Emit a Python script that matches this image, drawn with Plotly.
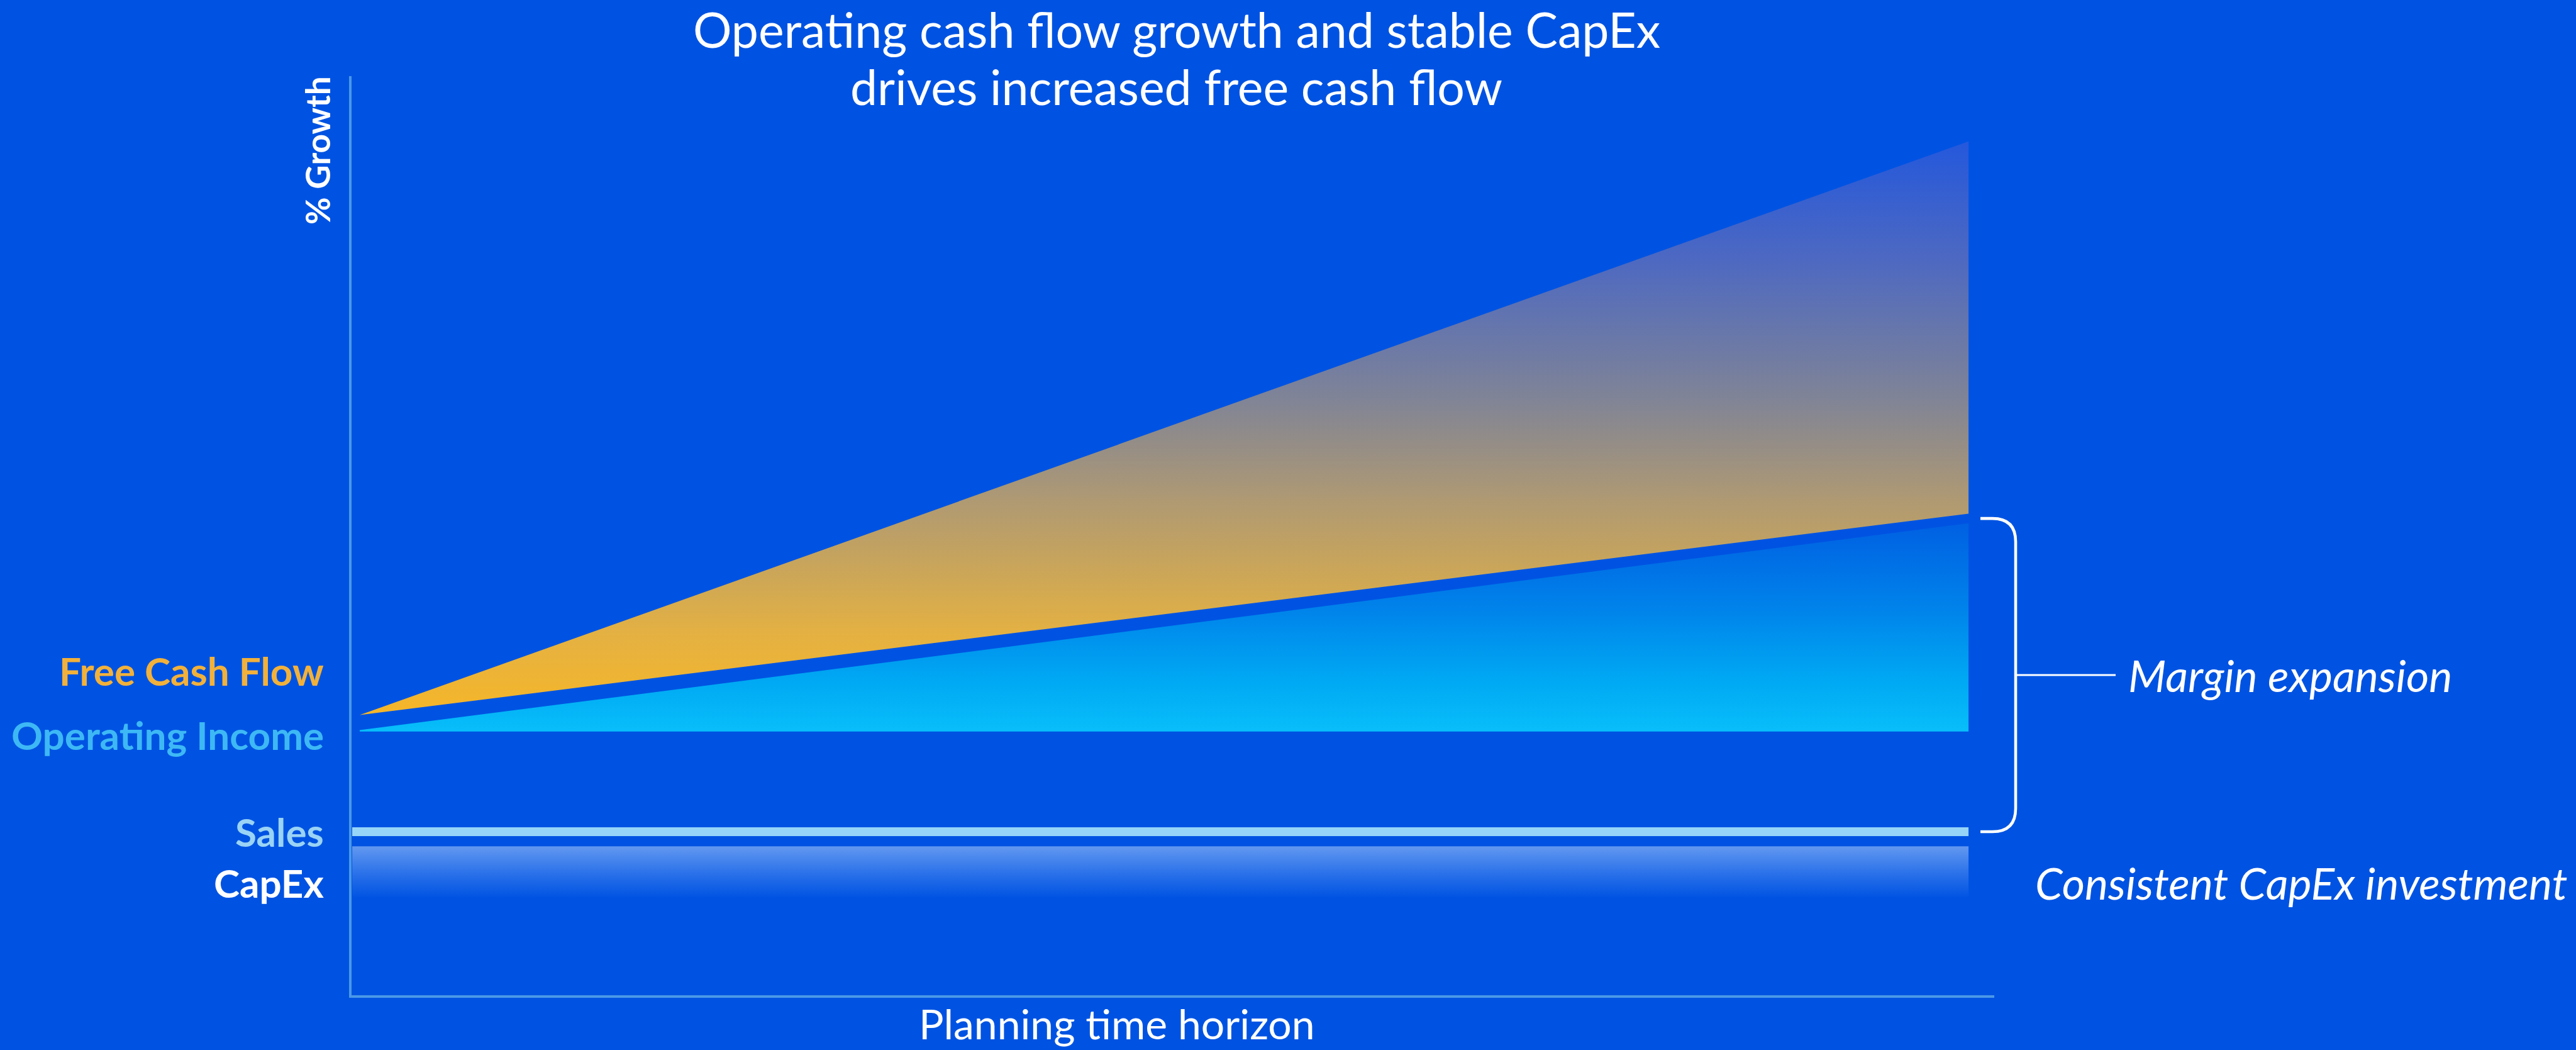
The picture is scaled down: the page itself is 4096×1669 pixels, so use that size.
import plotly.graph_objects as go

# ---------------- data ----------------
periods = [0, 10]                     # start / end of the planning time horizon
fcf_upper = [30.5, 92.9]              # free cash flow – upper edge of band
fcf_lower = [30.5, 52.4]              # free cash flow – lower edge of band
opinc_upper = [28.85, 51.35]          # operating income – upper edge
opinc_base = [28.7, 28.7]             # operating income – base
sales_level = [17.8, 17.8]            # sales (flat)
capex_top = [16.2, 16.2]              # capex band top
capex_fade = [10.6, 10.6]             # capex band fade-out

series_labels = ["Free Cash Flow", "Operating Income", "Sales", "CapEx"]
label_colors = ["#F2B13B", "#3DB8F5", "#9AD3F5", "#FFFFFF"]
title_lines = ["Operating cash flow growth and stable CapEx",
               "drives increased free cash flow"]
y_title = "% Growth"
x_title = "Planning time horizon"
note_margin = "Margin expansion"
note_capex = "Consistent CapEx investment"

# ---------------- geometry ----------------
W, H = 4096, 1669
L, R, T, B = 559, 925, 121, 87
PW, PH = W - L - R, H - T - B
X_RANGE = [-0.0508, 10.160]
Y_RANGE = [0, 100]
BG = "#0053E2"
FONT = "Lato"


def px_x(p):
    return (p - L) / PW


def px_y(p):
    return 1 - (p - T) / PH


def val_py(v):
    return T + (Y_RANGE[1] - v) / (Y_RANGE[1] - Y_RANGE[0]) * PH


def band(x, lo, hi):
    return list(x) + list(x)[::-1], list(lo) + list(hi)[::-1]


fig = go.Figure()

# CapEx band (fading)
flat_x = [X_RANGE[0] + 0.004, periods[-1]]
bx, by = band(flat_x, capex_fade, capex_top)
fig.add_trace(go.Scatter(
    x=bx, y=by, mode="lines", line=dict(width=0), fill="toself",
    fillgradient=dict(type="vertical", start=capex_fade[0], stop=capex_top[0],
                      colorscale=[[0, "rgba(0,83,226,1)"], [0.5, "rgb(45,115,234)"],
                                  [1, "rgb(98,152,240)"]]),
    hoverinfo="skip"))

# Sales line
fig.add_trace(go.Scatter(
    x=flat_x, y=sales_level, mode="lines",
    line=dict(color="#96D5F8", width=14), hoverinfo="skip"))

# Operating income area
ox, oy = band(periods, opinc_base, opinc_upper)
fig.add_trace(go.Scatter(
    x=ox, y=oy, mode="lines", line=dict(width=0), fill="toself",
    fillgradient=dict(type="vertical", start=min(opinc_base), stop=max(opinc_upper),
                      colorscale=[[0, "rgb(8,190,250)"], [0.25, "rgb(0,168,243)"],
                                  [0.6, "rgb(0,130,234)"], [1, "rgb(0,96,226)"]]),
    hoverinfo="skip"))

# Free cash flow area
fx, fy = band(periods, fcf_lower, fcf_upper)
fig.add_trace(go.Scatter(
    x=fx, y=fy, mode="lines", line=dict(width=0), fill="toself",
    fillgradient=dict(type="vertical", start=min(fcf_lower), stop=max(fcf_upper),
                      colorscale=[[0, "rgb(246,182,40)"], [0.14, "rgb(228,177,66)"],
                                  [0.37, "rgb(176,154,114)"], [0.55, "rgb(128,132,150)"],
                                  [0.8, "rgb(76,104,194)"], [1, "rgb(36,88,220)"]]),
    hoverinfo="skip"))

# ---------------- bracket ----------------
xs, xv, xt = 3149, 3205, 3364
r = 37
top_py = val_py((fcf_lower[-1] + opinc_upper[-1]) / 2)
bot_py = val_py(sales_level[-1])
mid_py = (top_py + bot_py) / 2


def P(xp, yp):
    return f"{px_x(xp):.5f},{px_y(yp):.5f}"


path = (f"M {P(xs, top_py)} L {P(xv - r, top_py)} Q {P(xv, top_py)} {P(xv, top_py + r)} "
        f"L {P(xv, bot_py - r)} Q {P(xv, bot_py)} {P(xv - r, bot_py)} L {P(xs, bot_py)}")
shapes = [
    dict(type="path", xref="paper", yref="paper", path=path,
         line=dict(color="white", width=4.6)),
    dict(type="line", xref="paper", yref="paper", x0=px_x(xv), x1=px_x(xt),
         y0=px_y(mid_py), y1=px_y(mid_py), line=dict(color="white", width=3)),
]

# ---------------- text ----------------
ann = []
# title
for txt, yc in zip(title_lines, [46, 137]):
    ann.append(dict(text=txt, xref="paper", yref="paper", x=px_x(1871), y=px_y(yc),
                    xanchor="center", yanchor="middle", showarrow=False,
                    font=dict(family=FONT, size=77, color="white")))
# left labels
for txt, col, yc in zip(series_labels, label_colors, [1066, 1168, 1322, 1403]):
    ann.append(dict(text=txt, xref="paper", yref="paper", x=px_x(517), y=px_y(yc),
                    xanchor="right", yanchor="middle", showarrow=False,
                    font=dict(family=FONT, size=62, color=col, weight="bold")))
# axis titles
ann.append(dict(text=y_title, xref="paper", yref="paper", x=px_x(504), y=px_y(239),
                xanchor="center", yanchor="middle", showarrow=False, textangle=-90,
                font=dict(family=FONT, size=53, color="white", weight="bold")))
ann.append(dict(text=x_title, xref="paper", yref="paper", x=px_x(1776), y=px_y(1626),
                xanchor="center", yanchor="middle", showarrow=False,
                font=dict(family=FONT, size=66, color="white")))
# notes
ann.append(dict(text=note_margin, xref="paper", yref="paper", x=px_x(3382), y=px_y(mid_py),
                xanchor="left", yanchor="middle", showarrow=False,
                font=dict(family=FONT, size=70, color="white", style="italic")))
ann.append(dict(text=note_capex, xref="paper", yref="paper", x=px_x(3234), y=px_y(1403),
                xanchor="left", yanchor="middle", showarrow=False,
                font=dict(family=FONT, size=70, color="white", style="italic")))

axis_common = dict(showgrid=False, zeroline=False, showticklabels=False, ticks="",
                   showline=True, linecolor="#4A98E8", linewidth=4, fixedrange=True)
fig.update_layout(
    width=W, height=H, margin=dict(l=L, r=R, t=T, b=B, autoexpand=False),
    paper_bgcolor=BG, plot_bgcolor=BG, showlegend=False,
    xaxis=dict(range=X_RANGE, **axis_common),
    yaxis=dict(range=Y_RANGE, **axis_common),
    shapes=shapes, annotations=ann,
)

fig.write_html("out.html", config={"displayModeBar": False})
